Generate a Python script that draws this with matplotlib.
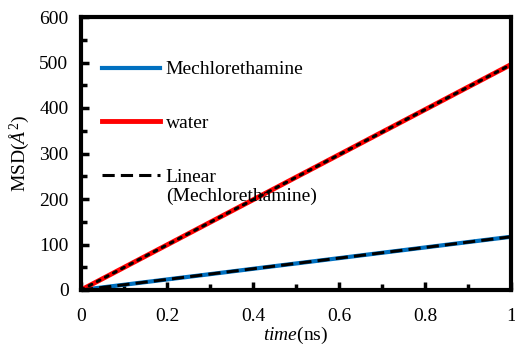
import numpy as np
import matplotlib
matplotlib.use("Agg")
import matplotlib.pyplot as plt
from matplotlib.ticker import MultipleLocator

plt.rcParams['font.family'] = ['Liberation Serif', 'DejaVu Serif']
plt.rcParams['mathtext.fontset'] = 'custom'
plt.rcParams['mathtext.rm'] = 'Liberation Serif'
plt.rcParams['mathtext.it'] = 'Liberation Serif:italic'

time_ns = [0.0, 0.1, 0.2, 0.3, 0.4, 0.5, 0.6, 0.7, 0.8, 0.9, 1.0]
msd_mech = [0.0, 11.5, 23.2, 34.8, 46.6, 58.3, 70.0, 81.8, 93.5, 105.3, 117.0]
msd_water = [0.0, 49.6, 99.1, 148.7, 198.2, 247.8, 297.3, 346.9, 396.4, 446.0, 495.5]

t = np.array(time_ns)
fig = plt.figure(figsize=(5.15, 3.47), dpi=100)
ax = fig.add_axes([81/515, 57/347, 430/515, 273/347])

ax.plot(t, msd_mech, color='#0070C0', lw=3, label='Mechlorethamine')
ax.plot(t, msd_water, color='#FF0000', lw=3.5, label='water')
pm = np.polyfit(t, msd_mech, 1)
pw = np.polyfit(t, msd_water, 1)
ax.plot(t, np.polyval(pm, t), color='black', lw=2.2, ls=(0, (4, 2)), label='Linear')
ax.plot(t, np.polyval(pw, t), color='black', lw=2.2, ls=(0, (1, 2)), dash_capstyle='round')

ax.set_xlim(0, 1)
ax.set_ylim(0, 600)
ax.xaxis.set_major_locator(MultipleLocator(0.2))
ax.xaxis.set_minor_locator(MultipleLocator(0.1))
ax.yaxis.set_major_locator(MultipleLocator(100))
ax.yaxis.set_minor_locator(MultipleLocator(50))
ax.set_xticks([0, 0.2, 0.4, 0.6, 0.8, 1.0])
ax.set_xticklabels(['0', '0.2', '0.4', '0.6', '0.8', '1'])
ax.tick_params(which='both', direction='in', width=2.5, labelsize=14)
ax.tick_params(which='major', length=6)
ax.tick_params(which='minor', length=4)
ax.tick_params(axis='y', which='major', pad=9)
ax.tick_params(axis='x', which='major', pad=13)
for s in ax.spines.values():
    s.set_linewidth(3)

ax.set_xlabel(r'$\it{time}$(ns)', fontsize=14, labelpad=0)
ax.set_ylabel('MSD($\\it{Å}^{2}$)', fontsize=14, labelpad=6)

leg = ax.legend(loc='upper left', bbox_to_anchor=(0.03, 0.868), frameon=False,
                fontsize=14, handlelength=3.0, handletextpad=0.3, labelspacing=1.85,
                borderaxespad=0)
ax.text(0.198, 0.344, '(Mechlorethamine)', transform=ax.transAxes, fontsize=14,
        ha='left', va='center')

fig.savefig('out.png', dpi=100)
